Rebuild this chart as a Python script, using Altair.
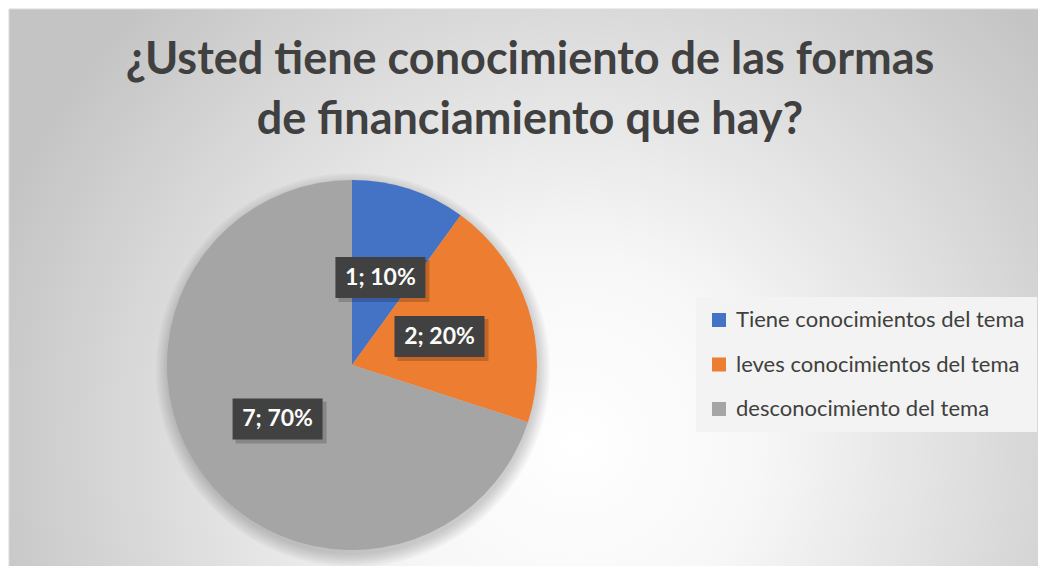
import altair as alt
import pandas as pd

categories = ["Tiene conocimientos del tema", "leves conocimientos del tema", "desconocimiento del tema"]
counts = [1, 2, 7]
percents = [10, 20, 70]
colors = ["#4472C4", "#ED7D31", "#A5A5A5"]
title_lines = ["¿Usted tiene conocimiento de las formas", "de financiamiento que hay?"]

W, H = 1030, 558
CX, CY, R = 343, 356, 185
LR = 92          # label radius
BW, BH = 90, 41  # label box size

df = pd.DataFrame({
    "cat": categories,
    "count": counts,
    "pct": percents,
    "idx": list(range(len(categories))),
})
df["label"] = [f"{c}; {p}%" for c, p in zip(counts, percents)]

one = pd.DataFrame({"k": [0]})

bg = alt.Chart(one).mark_rect(
    fill=alt.RadialGradient(
        gradient="radial",
        stops=[
            alt.GradientStop(color="#ffffff", offset=0),
            alt.GradientStop(color="#f7f7f7", offset=0.3),
            alt.GradientStop(color="#c4c4c4", offset=1),
        ],
        x1=0.55, y1=0.65, r1=0, x2=0.55, y2=0.65, r2=0.6,
    ),
    stroke="#d9d9d9",
    strokeWidth=1,
).encode(x=alt.value(0), x2=alt.value(W), y=alt.value(0), y2=alt.value(H))

shadows = [
    alt.Chart(one).mark_arc(theta=0, theta2=6.2832, radius=R + k, fill="#000000", opacity=0.028)
    .encode(x=alt.value(CX + 1), y=alt.value(CY + 5))
    for k in (0, 2, 4, 6, 8, 10, 12)
]

pie = alt.Chart(df).mark_arc(radius=R).encode(
    theta=alt.Theta("count:Q", stack=True),
    order=alt.Order("idx:Q"),
    color=alt.Color(
        "cat:N",
        scale=alt.Scale(domain=categories, range=colors),
        sort=categories,
        legend=alt.Legend(
            orient="none", legendX=687, legendY=288, title=None,
            symbolType="square", symbolSize=196, symbolStrokeWidth=0,
            labelFontSize=22, labelFont="Lato", labelColor="#404040",
            labelOffset=6, rowPadding=22.5, padding=12,
            fillColor="#f3f3f3", labelLimit=400,
        ),
    ),
    x=alt.value(CX),
    y=alt.value(CY),
)

lab = alt.Chart(df).transform_window(
    cum="sum(count)", sort=[alt.SortField("idx")], frame=[None, 0]
).transform_joinaggregate(total="sum(count)").transform_calculate(
    mid="(datum.cum - datum.count / 2) / datum.total * 2 * PI",
    lx=f"{CX} + {LR} * sin(datum.mid)",
    ly=f"{CY} - {LR} * cos(datum.mid)",
    bx1=f"datum.lx - {BW / 2}",
    bx2=f"datum.lx + {BW / 2}",
    by1=f"datum.ly - {BH / 2}",
    by2=f"datum.ly + {BH / 2}",
    sx1=f"datum.lx - {BW / 2} + 3",
    sx2=f"datum.lx + {BW / 2} + 4",
    sy1=f"datum.ly - {BH / 2} + 3",
    sy2=f"datum.ly + {BH / 2} + 4",
)

box_shadow = lab.mark_rect(fill="#000000", opacity=0.18).encode(
    x=alt.X("sx1:Q", scale=None, axis=None), x2="sx2:Q",
    y=alt.Y("sy1:Q", scale=None, axis=None), y2="sy2:Q",
)
box = lab.mark_rect(fill="#414141").encode(
    x=alt.X("bx1:Q", scale=None, axis=None), x2="bx2:Q",
    y=alt.Y("by1:Q", scale=None, axis=None), y2="by2:Q",
)
txt = lab.mark_text(
    font="Lato", fontSize=23, fontWeight="bold", color="#ffffff",
    align="center", baseline="middle",
).encode(
    x=alt.X("lx:Q", scale=None, axis=None),
    y=alt.Y("ly:Q", scale=None, axis=None),
    text="label:N",
)

title = alt.Chart(one).mark_text(
    font="Lato", fontSize=45, fontWeight="bold", color="#404040",
    align="center", baseline="alphabetic", lineHeight=60,
).encode(x=alt.value(521), y=alt.value(65), text=alt.value(title_lines))

chart = alt.layer(bg, *shadows, pie, box_shadow, box, txt, title).properties(
    width=W, height=H,
    autosize=alt.AutoSizeParams(type="fit", contains="padding"),
    padding=0,
).configure_view(stroke=None)

chart.save("out.html", embed_options={"renderer": "svg", "actions": False})
